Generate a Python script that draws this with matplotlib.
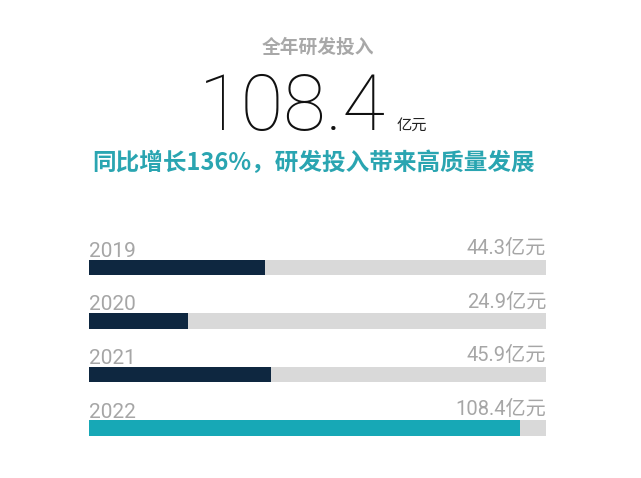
import matplotlib
matplotlib.use("Agg")
import matplotlib.pyplot as plt

years = ['2019', '2020', '2021', '2022']
values = [44.3, 24.9, 45.9, 108.4]
value_labels = ['44.3亿元', '24.9亿元', '45.9亿元', '108.4亿元']
bar_max = 115

title = '全年研发投入'
big_number = '108.4'
big_unit = '亿元'
subtitle = '同比增长136%，研发投入带来高质量发展'

navy = '#0e2740'
teal = '#17a8b6'
track = '#d9d9d9'
gray_text = '#a6a6a6'

plt.rcParams['font.family'] = ['Roboto', 'Noto Sans CJK SC', 'DejaVu Sans']

fig = plt.figure(figsize=(6.41, 4.78), dpi=100)
fig.patch.set_facecolor('white')

W, H = 641, 478

# header texts
fig.text(318 / W, 1 - 47 / H, title, ha='center', va='center', fontsize=13.5,
         fontweight='bold', color='#a8a8a8', family=['Noto Sans CJK SC'])
fig.text(386 / W, 1 - 130 / H, big_number, ha='right', va='baseline', fontsize=56,
         fontweight='light', color='#111111')
fig.text(397 / W, 1 - 130 / H, big_unit, ha='left', va='baseline', fontsize=11,
         color='#222222', family=['Noto Sans CJK SC'])
fig.text(314 / W, 1 - 163 / H, subtitle, ha='center', va='center', fontsize=17,
         fontweight='bold', color='#2aa5b1', family=['Noto Sans CJK SC'])

# bars
ax = fig.add_axes([89 / W, 1 - 440 / H, (546 - 89) / W, 204 / H])
idx = list(range(len(years)))
colors = [navy, navy, navy, teal]
ax.barh(idx, [bar_max] * len(years), height=0.29, color=track)
ax.barh(idx, values, height=0.29, color=colors)
ax.set_xlim(0, bar_max)
ax.set_ylim(3.22, -0.59)

for i in idx:
    ax.text(0, i - 0.2, years[i], ha='left', va='baseline', fontsize=15,
            color=gray_text)
    ax.text(bar_max, i - 0.25, value_labels[i], ha='right', va='baseline', fontsize=14.5,
            color=gray_text)

ax.axis('off')

fig.savefig('out.png', dpi=100, facecolor='white')
